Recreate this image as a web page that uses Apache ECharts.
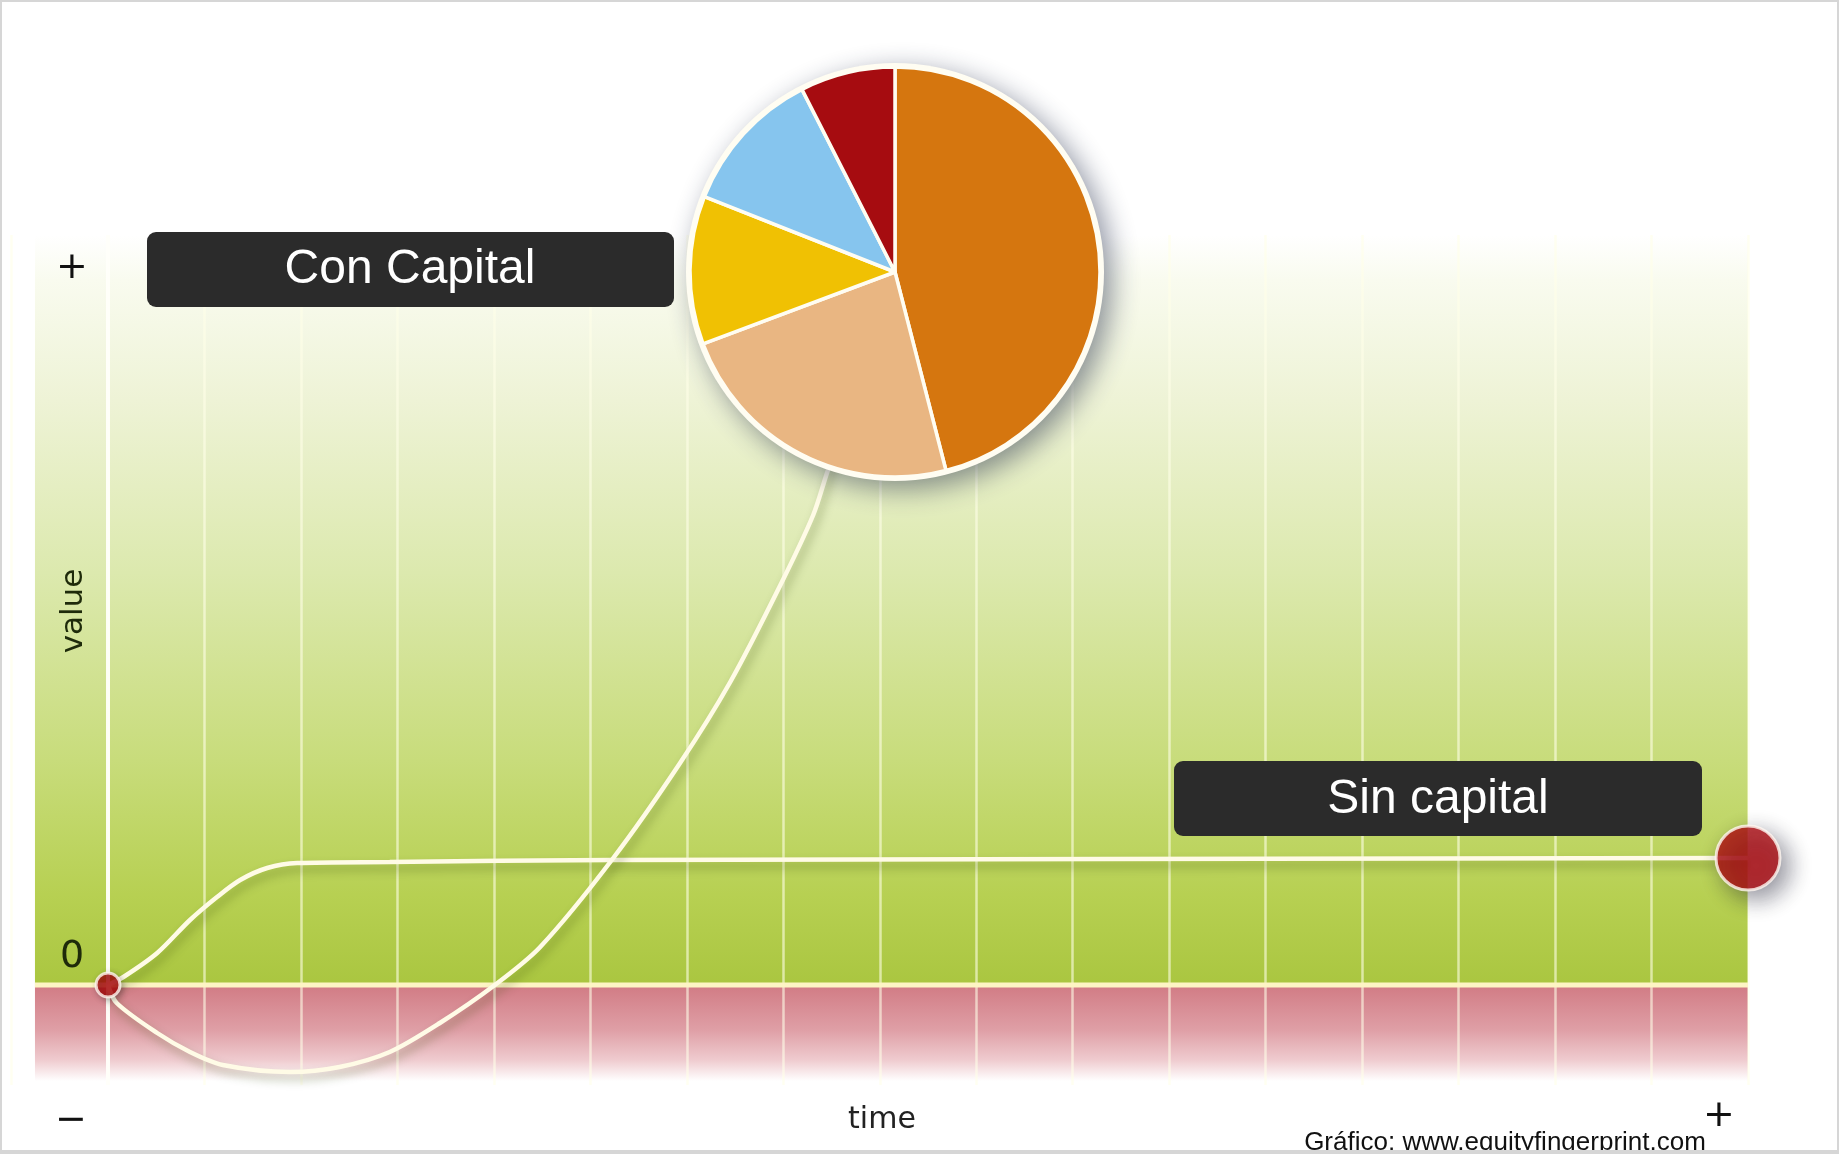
<!DOCTYPE html>
<html><head><meta charset="utf-8">
<script src="https://cdn.jsdelivr.net/npm/echarts/dist/echarts.min.js"></script>
<style>html,body{margin:0;padding:0;background:#fff}#c{width:1839px;height:1154px}</style>
</head><body><div id="c"></div>
<script>
// ---- data ----
const sinTime  = [0, 0.16, 0.51, 0.85, 1.13, 1.37, 1.65, 1.96, 2.92, 5.2, 17];
const sinValue = [0, 0.08, 0.32, 0.65, 0.88, 1.05, 1.17, 1.22, 1.23, 1.25, 1.27];
const conTime  = [0, 0.09, 0.51, 0.85, 1.19, 1.89, 2.40, 2.92, 3.44, 4.01, 4.48, 5.23, 5.93, 6.45, 6.97, 7.31, 7.46, 7.6];
const conValue = [0, -0.18, -0.48, -0.67, -0.80, -0.87, -0.82, -0.67, -0.38, 0, 0.38, 1.26, 2.22, 3.03, 4.00, 4.70, 5.14, 5.5];
const pieNames  = ['Segmento 1', 'Segmento 2', 'Segmento 3', 'Segmento 4', 'Segmento 5'];
const pieValues = [46, 23.3, 11.7, 11.5, 7.5];
const seriesLabels = ['Con Capital', 'Sin capital'];
const axisNames = ['time', 'value'];
const axisEndLabels = ['+', '0', '−', '+'];
const creditText = 'Gráfico: www.equityfingerprint.com';
const timeRange = [-1, 17];
const valueRange = [-1, 7.5];
const backgroundStart = -0.757;

// ---- styles ----
const pieColors = ['#d5760f', '#e9b682', '#f0c103', '#86c5ee', '#a60c10'];
const lineColor = '#fffbe6';

const chart = echarts.init(document.getElementById('c'), null, {renderer: 'canvas'});
const zip = (a, b) => a.map((v, i) => [v, b[i]]);
const sinData = zip(sinTime, sinValue);
const conData = zip(conTime, conValue);

const lineShadow = {shadowColor: 'rgba(50,70,0,0.35)', shadowBlur: 10, shadowOffsetX: 3, shadowOffsetY: 6};

chart.setOption({
  animation: false,
  grid: {left: 11.53, right: 91, top: 235, bottom: 69, outerBoundsMode: 'none'},
  xAxis: {type: 'value', min: timeRange[0], max: timeRange[1], interval: 1,
    axisLine: {show: false}, axisTick: {show: false}, axisLabel: {show: false},
    splitLine: {show: true, lineStyle: {color: 'rgba(255,255,232,0.6)', width: 2.5}}},
  yAxis: {type: 'value', min: valueRange[0], max: valueRange[1],
    axisLine: {show: false}, axisTick: {show: false}, axisLabel: {show: false}, splitLine: {show: false}},
  series: [
    {type: 'line', name: 'zero', z: 1, silent: true, symbol: 'none',
      data: [[backgroundStart, 0], [timeRange[1], 0]],
      lineStyle: {color: '#fdf5c4', width: 5}},
    {type: 'line', name: 'axis', z: 1, silent: true, symbol: 'none',
      data: [[0, valueRange[0]], [0, valueRange[1]]],
      lineStyle: {color: 'rgba(255,255,250,0.95)', width: 4}},
    {type: 'line', name: seriesLabels[1], z: 3, symbol: 'none', smooth: 0.3, clip: false,
      data: sinData, lineStyle: Object.assign({color: lineColor, width: 4.5}, lineShadow)},
    {type: 'line', name: seriesLabels[0], z: 3, symbol: 'none', smooth: 0.3, clip: false,
      data: conData, lineStyle: Object.assign({color: lineColor, width: 4.5}, lineShadow)},
    {type: 'scatter', name: 'inicio', z: 6, clip: false, symbolSize: 24,
      data: [conData[0]],
      itemStyle: {color: '#b00a0c', borderColor: '#fff6f0', borderWidth: 3,
        shadowColor: 'rgba(0,0,0,0.3)', shadowBlur: 6, shadowOffsetX: 2, shadowOffsetY: 2}},
    {type: 'scatter', name: 'fin', z: 6, clip: false, symbolSize: 64,
      data: [sinData[sinData.length - 1]],
      itemStyle: {color: '#b30c12', borderColor: '#fff6f0', borderWidth: 3,
        shadowColor: 'rgba(20,20,40,0.55)', shadowBlur: 22, shadowOffsetX: 8, shadowOffsetY: 8}},
    {type: 'pie', name: 'sombra', z: 7, silent: true, center: [895, 272], radius: 209, startAngle: 90,
      label: {show: false}, labelLine: {show: false},
      data: [{value: pieValues.reduce((a, b) => a + b, 0), name: 'base'}],
      itemStyle: {color: '#fffdf2', shadowColor: 'rgba(30,40,70,0.5)', shadowBlur: 28, shadowOffsetX: 8, shadowOffsetY: 8}},
    {type: 'pie', name: seriesLabels[0], z: 8, center: [895, 272], radius: 205, startAngle: 90, clockwise: true,
      label: {show: false}, labelLine: {show: false}, emphasis: {disabled: true},
      data: pieNames.map((n, i) => ({name: n, value: pieValues[i], itemStyle: {color: pieColors[i]}})),
      itemStyle: {borderColor: '#fffdf2', borderWidth: 3.5}}
  ]
});

// background panels positioned through the axes' scales
const p = (x, y) => chart.convertToPixel({gridIndex: 0}, [x, y]);
const gTop = p(backgroundStart, valueRange[1]);
const gZero = p(timeRange[1], 0);
const gBot = p(timeRange[1], valueRange[0]);

const labelFont = '"Liberation Sans", Arial, sans-serif';
const axisFont = '"DejaVu Sans", Verdana, sans-serif';
function txt(text, x, y, size, family, color, extra) {
  return Object.assign({type: 'text', x: x, y: y, z: 20,
    style: {text: text, fill: color, fontSize: size, fontFamily: family,
      align: 'center', verticalAlign: 'middle', textAlign: 'center', textVerticalAlign: 'middle'}}, extra || {});
}

chart.setOption({
  graphic: [
    {type: 'rect', z: -5, silent: true,
      shape: {x: gTop[0], y: gTop[1], width: gZero[0] - gTop[0], height: gZero[1] - gTop[1]},
      style: {fill: new echarts.graphic.LinearGradient(0, 0, 0, 1, [
        {offset: 0, color: '#ffffff'}, {offset: 0.06, color: '#f9fbef'}, {offset: 0.22, color: '#eef3d6'},
        {offset: 0.45, color: '#dce9ae'}, {offset: 0.7, color: '#c8dc7b'}, {offset: 0.88, color: '#b7d052'},
        {offset: 1, color: '#aac640'}])}},
    {type: 'rect', z: -5, silent: true,
      shape: {x: gTop[0], y: gZero[1], width: gZero[0] - gTop[0], height: gBot[1] - gZero[1]},
      style: {fill: new echarts.graphic.LinearGradient(0, 0, 0, 1, [
        {offset: 0, color: '#d17b84'}, {offset: 0.45, color: '#df9fa6'}, {offset: 0.75, color: '#efcbcf'},
        {offset: 0.96, color: '#ffffff'}, {offset: 1, color: '#ffffff'}])}},
    // annotation boxes
    {type: 'rect', z: 15, shape: {x: 147, y: 232, width: 527, height: 75, r: 9}, style: {fill: '#2b2b2b'}},
    txt(seriesLabels[0], 410, 270, 48, labelFont, '#ffffff'),
    {type: 'rect', z: 15, shape: {x: 1174, y: 761, width: 528, height: 75, r: 9}, style: {fill: '#2b2b2b'}},
    txt(seriesLabels[1], 1438, 800, 48, labelFont, '#ffffff'),
    // axis marks
    txt(axisEndLabels[0], 72, 268, 38, axisFont, '#111111'),
    txt(axisEndLabels[1], 72, 957, 38, axisFont, '#1e2a0a'),
    txt(axisEndLabels[2], 71, 1121, 38, axisFont, '#111111'),
    txt(axisEndLabels[3], 1719, 1116, 38, axisFont, '#111111'),
    txt(axisNames[0], 882, 1120, 30, axisFont, '#222222'),
    txt(axisNames[1], 74, 611, 31, axisFont, '#1e2a0a', {rotation: Math.PI / 2}),
    txt(creditText, 1505, 1143, 26, labelFont, '#111111'),
    // frame
    {type: 'rect', z: 30, silent: true, shape: {x: 0, y: 0, width: 1839, height: 1154},
      style: {fill: 'none', stroke: '#d6d6d6', lineWidth: 4}},
    {type: 'rect', z: 30, silent: true, shape: {x: 0, y: 1150, width: 1839, height: 4},
      style: {fill: '#d6d6d6'}}
  ]
});
</script></body></html>
